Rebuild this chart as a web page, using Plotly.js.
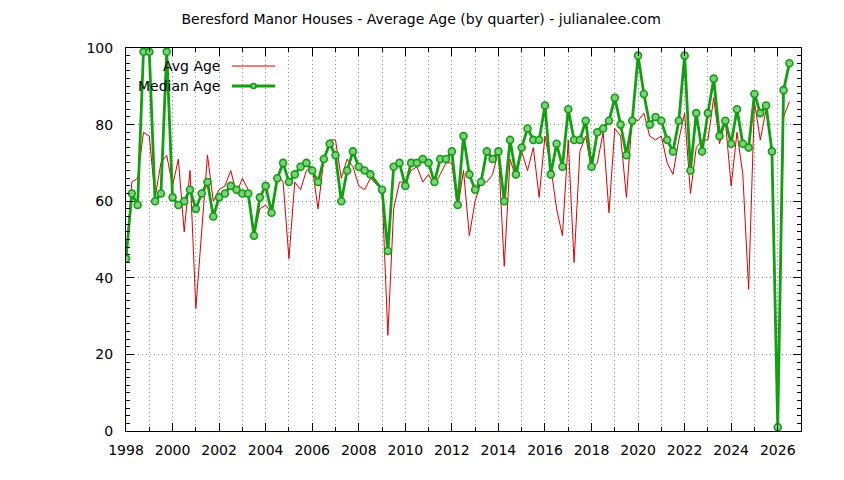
<!DOCTYPE html>
<html>
<head>
<meta charset="utf-8">
<script src="https://cdn.plot.ly/plotly-3.0.1.min.js"></script>
<style>
  html, body { margin: 0; padding: 0; background: #ffffff; }
  #chart { width: 844px; height: 480px; }
</style>
</head>
<body>
<div id="chart"></div>
<script>
// Quarter (decimal year) of each observation; 2008.75 has no data
var quarters = [
  1998.0, 1998.25, 1998.5, 1998.75,
  1999.0, 1999.25, 1999.5, 1999.75,
  2000.0, 2000.25, 2000.5, 2000.75,
  2001.0, 2001.25, 2001.5, 2001.75,
  2002.0, 2002.25, 2002.5, 2002.75,
  2003.0, 2003.25, 2003.5, 2003.75,
  2004.0, 2004.25, 2004.5, 2004.75,
  2005.0, 2005.25, 2005.5, 2005.75,
  2006.0, 2006.25, 2006.5, 2006.75,
  2007.0, 2007.25, 2007.5, 2007.75,
  2008.0, 2008.25, 2008.5,
  2009.0, 2009.25, 2009.5, 2009.75,
  2010.0, 2010.25, 2010.5, 2010.75,
  2011.0, 2011.25, 2011.5, 2011.75,
  2012.0, 2012.25, 2012.5, 2012.75,
  2013.0, 2013.25, 2013.5, 2013.75,
  2014.0, 2014.25, 2014.5, 2014.75,
  2015.0, 2015.25, 2015.5, 2015.75,
  2016.0, 2016.25, 2016.5, 2016.75,
  2017.0, 2017.25, 2017.5, 2017.75,
  2018.0, 2018.25, 2018.5, 2018.75,
  2019.0, 2019.25, 2019.5, 2019.75,
  2020.0, 2020.25, 2020.5, 2020.75,
  2021.0, 2021.25, 2021.5, 2021.75,
  2022.0, 2022.25, 2022.5, 2022.75,
  2023.0, 2023.25, 2023.5, 2023.75,
  2024.0, 2024.25, 2024.5, 2024.75,
  2025.0, 2025.25, 2025.5, 2025.75,
  2026.0, 2026.25, 2026.5
];

var avgAge = [
  45, 65, 66, 78,
  77, 61, 70, 72,
  64, 71, 52, 68,
  32, 52, 72, 60,
  63, 64, 68, 62,
  66, 63, 51, 58,
  59, 57, 67, 65,
  45, 65, 63, 68,
  69, 58, 71, 76,
  76, 66, 71, 69,
  64, 63, 66,
  63, 25, 58, 65,
  65, 68, 69, 65,
  67, 64, 67, 70,
  70, 58, 68, 51,
  60, 65, 65, 67,
  73, 43, 71, 66,
  73, 68, 74, 61,
  77, 69, 58, 51,
  76, 44, 73, 77,
  68, 70, 78, 57,
  79, 77, 61, 82,
  81, 83, 77, 76,
  77, 70, 67, 76,
  83, 62, 74, 76,
  76, 87, 75, 81,
  64, 78, 67, 37,
  86, 76, 84, 73,
  1, 82, 86
];

var medianAge = [
  45, 62, 59, 99,
  99, 60, 62, 99,
  61, 59, 60, 63,
  58, 62, 65, 56,
  61, 62, 64, 63,
  62, 62, 51, 61,
  64, 57, 66, 70,
  65, 67, 69, 70,
  68, 65, 71, 75,
  72, 60, 68, 73,
  69, 68, 67,
  63, 47, 69, 70,
  64, 70, 70, 71,
  70, 65, 71, 71,
  73, 59, 77, 67,
  63, 65, 73, 71,
  73, 60, 76, 67,
  74, 79, 76, 76,
  85, 67, 75, 69,
  84, 76, 76, 81,
  69, 78, 79, 81,
  87, 80, 72, 81,
  98, 88, 80, 82,
  81, 76, 73, 81,
  98, 68, 83, 73,
  83, 92, 77, 81,
  75, 84, 75, 74,
  88, 83, 85, 73,
  1, 89, 96
];

var seriesNames = ['Avg Age', 'Median Age'];
var titleText = 'Beresford Manor Houses - Average Age (by quarter) - julianalee.com';

var FONT = 'DejaVu Sans, Verdana, sans-serif';
var RED = '#dd0000';
var GREEN = '#10a010';
var MARKFILL = '#7fcf7f';

var traces = [
  {
    x: quarters, y: avgAge, name: seriesNames[0],
    type: 'scatter', mode: 'lines',
    line: { color: RED, width: 1 },
    showlegend: false, hoverinfo: 'skip'
  },
  {
    x: quarters, y: medianAge, name: seriesNames[1],
    type: 'scatter', mode: 'lines+markers',
    line: { color: GREEN, width: 2.8 },
    marker: { symbol: 'circle', size: 7, color: MARKFILL, line: { color: GREEN, width: 1.6 } },
    showlegend: false, hoverinfo: 'skip'
  }
];

// legend drawn in gnuplot style (text on the left, sample on the right)
var L = 126, R = 801, T = 48, B = 431;
function px(x) { return (x - L) / (R - L); }
function py(y) { return (B - y) / (B - T); }

var layout = {
  width: 844, height: 480,
  margin: { l: L, r: 844 - R, t: T, b: 480 - B, pad: 0 },
  paper_bgcolor: '#ffffff', plot_bgcolor: '#ffffff',
  font: { family: FONT, size: 14, color: '#000000' },
  title: {
    text: titleText,
    font: { family: FONT, size: 14, color: '#000000' },
    x: 0.499, xref: 'container', xanchor: 'center',
    y: 1 - 19 / 480, yref: 'container', yanchor: 'middle'
  },
  xaxis: {
    range: [1998, 2027],
    tickmode: 'linear', tick0: 1998, dtick: 2, tickformat: 'd',
    ticks: 'inside', ticklen: 8, tickwidth: 1, tickcolor: '#000000',
    showline: true, linecolor: '#000000', linewidth: 1, mirror: 'ticks',
    showgrid: true, gridcolor: '#a0a0a0', gridwidth: 1, griddash: '1px,3px',
    zeroline: false,
    minor: { dtick: 1, tick0: 1998, ticks: 'inside', ticklen: 4, tickcolor: '#000000',
             showgrid: true, gridcolor: '#a0a0a0', gridwidth: 1, griddash: '1px,3px' },
    tickfont: { family: FONT, size: 14, color: '#000000' },
    ticklabelstandoff: 6,
    fixedrange: true
  },
  yaxis: {
    range: [0, 100],
    tickmode: 'linear', tick0: 0, dtick: 20,
    ticks: 'inside', ticklen: 8, tickwidth: 1, tickcolor: '#000000',
    showline: true, linecolor: '#000000', linewidth: 1, mirror: 'ticks',
    showgrid: true, gridcolor: '#a0a0a0', gridwidth: 1, griddash: '1px,3px',
    zeroline: false,
    minor: { dtick: 2, tick0: 0, ticks: 'inside', ticklen: 4, tickcolor: '#000000', showgrid: false },
    tickfont: { family: FONT, size: 14, color: '#000000' },
    ticklabelstandoff: 9,
    fixedrange: true
  },
  annotations: [
    { text: seriesNames[0], xref: 'paper', yref: 'paper', x: px(222), y: py(66),
      xanchor: 'right', yanchor: 'middle', showarrow: false,
      font: { family: FONT, size: 14, color: '#000000' } },
    { text: seriesNames[1], xref: 'paper', yref: 'paper', x: px(222), y: py(86),
      xanchor: 'right', yanchor: 'middle', showarrow: false,
      font: { family: FONT, size: 14, color: '#000000' } }
  ],
  shapes: [
    { type: 'line', xref: 'paper', yref: 'paper', x0: px(232), x1: px(275), y0: py(66), y1: py(66),
      line: { color: RED, width: 1 } },
    { type: 'line', xref: 'paper', yref: 'paper', x0: px(232), x1: px(275), y0: py(86), y1: py(86),
      line: { color: GREEN, width: 2.8 } },
    { type: 'circle', xref: 'paper', yref: 'paper', xsizemode: 'pixel', ysizemode: 'pixel',
      xanchor: px(253.5), yanchor: py(86), x0: -2.5, x1: 2.5, y0: -2.5, y1: 2.5,
      fillcolor: MARKFILL, line: { color: GREEN, width: 1.6 } }
  ],
  hovermode: false
};

Plotly.newPlot('chart', traces, layout, { displayModeBar: false, staticPlot: true });
</script>
</body>
</html>
